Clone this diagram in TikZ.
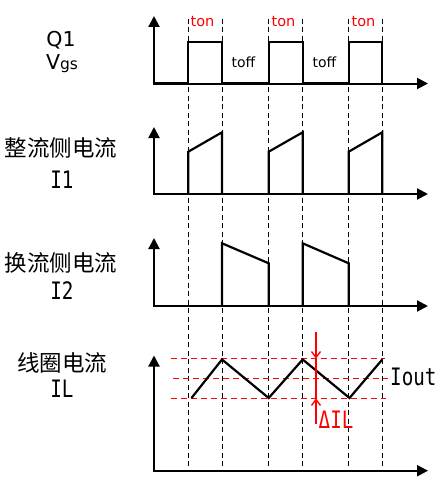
\documentclass[tikz,border=0pt]{standalone}
\usepackage{fontspec}
\setmainfont{DejaVu Sans}
\newfontfamily\cjk{Noto Sans CJK SC}
\newfontfamily\monof[FakeStretch=0.8]{DejaVu Sans Mono}
\usetikzlibrary{arrows.meta}
\begin{document}
\begin{tikzpicture}[x=1pt,y=-1pt,
  ax/.style={line width=2pt,line join=miter,{Triangle[length=11pt,width=11pt]}-{Triangle[length=11pt,width=11pt]}},
  wave/.style={line width=2.2pt,line join=miter},
  guide/.style={line width=0.9pt,dash pattern=on 5pt off 3.5pt},
  rguide/.style={red,line width=0.9pt,dash pattern=on 6pt off 4pt},
  rarrow/.style={red,line width=1.4pt,-{Straight Barb[length=6pt,width=9pt]}},
  cjklabel/.style={font=\cjk\fontsize{22.5}{26}\selectfont,inner sep=0pt},
  monolabel/.style={font=\monof\fontsize{24}{28}\selectfont,inner sep=0pt},
  ton/.style={font=\fontsize{14.5}{17}\selectfont,text=red,inner sep=0pt},
  toff/.style={font=\fontsize{14}{17}\selectfont,inner sep=0pt}]
\useasboundingbox (0,0) rectangle (446,487);

% vertical dashed guides
\foreach \xx [count=\i] in {188.3,222,268.7,302.7,348.7,382.3}{
  \coordinate (gt\i) at (\xx,19);
  \coordinate (gb\i) at (\xx,470);
  \draw[guide] (gt\i) -- (gb\i);
}

% red dashed levels
\coordinate (rh1) at (171,358.7); \coordinate (rh2) at (385,358.7);
\coordinate (rm1) at (173,378.3); \coordinate (rm2) at (388,378.3);
\coordinate (rl1) at (171,398.3); \coordinate (rl2) at (386,398.3);
\draw[rguide] (rh1) -- (rh2);
\draw[rguide] (rm1) -- (rm2);
\draw[rguide] (rl1) -- (rl2);

% axes
\draw[ax] (154,16) -- (154,83.5) -- (428,83.5);
\draw[ax] (154,127) -- (154,194) -- (428,194);
\draw[ax] (154,238) -- (154,306) -- (428,306);
\draw[ax] (154,355.5) -- (154,470.7) -- (428,470.7);

% Q1 Vgs pulse train
\draw[wave] (154,83.5) -- (188.3,83.5) -- (188.3,42.3) -- (222,42.3) -- (222,83.5)
  -- (268.7,83.5) -- (268.7,42.3) -- (302.7,42.3) -- (302.7,83.5)
  -- (348.7,83.5) -- (348.7,42.3) -- (382.3,42.3) -- (382.3,83.5);

% I1
\foreach \a/\b in {188.3/222,268.7/302.7,348.7/382.3}{
  \draw[wave] (\a,194) -- (\a,151.7) -- (\b,132.3) -- (\b,194);
}
% I2
\foreach \a/\b in {222/268.7,302.7/348.7}{
  \draw[wave] (\a,306) -- (\a,243.3) -- (\b,263.3) -- (\b,306);
}
% IL
\draw[wave] (191.5,398) -- (222,359.5) -- (268.7,398) -- (302.7,359.5) -- (349.5,398) -- (382.3,359.5);

% Delta IL arrows
\coordinate (dt) at (316,331.7);
\coordinate (dh) at (316,358.7);
\coordinate (dl) at (316,398.3);
\coordinate (db) at (316,424);
\draw[red,line width=1.4pt] (dh) -- (dl);
\draw[rarrow] (dt) -- (dh);
\draw[rarrow] (db) -- (dl);

% labels
\node[font=\fontsize{20.5}{24}\selectfont,inner sep=0pt] (q1) at (61,40) {Q1};
\node[font=\fontsize{20.5}{24}\selectfont,inner sep=0pt,anchor=base] (vgs) at (62,70) {V{\fontsize{15.5}{18}\selectfont gs}};
\node[cjklabel] (l1) at (61,148) {整流侧电流};
\node[monolabel] (i1) at (62,180) {I1};
\node[cjklabel] (l2) at (61,263) {换流侧电流};
\node[monolabel] (i2) at (62,291) {I2};
\node[cjklabel] (l3) at (62,363) {线圈电流};
\node[monolabel] (il) at (62,389) {IL};

\node[ton] (ton1) at (202.5,22) {ton};
\node[ton] (ton2) at (283.5,22) {ton};
\node[ton] (ton3) at (363.5,22) {ton};
\node[toff] (toff1) at (243.5,62) {toff};
\node[toff] (toff2) at (324.5,62) {toff};

\node[monolabel,anchor=west] (iout) at (390,376.5) {Iout};
\node[monolabel,anchor=west,text=red] (dil) at (318.5,420) {ΔIL};
\end{tikzpicture}
\end{document}
